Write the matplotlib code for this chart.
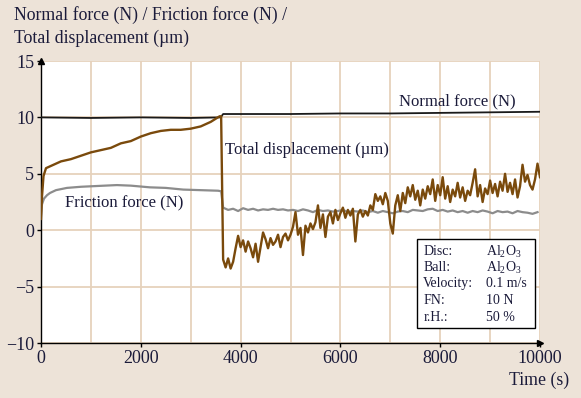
"""Tribometer run: normal force, friction force and total displacement vs time."""

import numpy as np
import matplotlib.pyplot as plt

# --- data ---
normal_t = [0, 1000, 2000, 3000, 3600, 3650, 5000, 6000, 7000, 8000, 9000, 10000]
normal_f = [10.0, 9.95, 10.0, 9.95, 10.0, 10.3, 10.3, 10.35, 10.35, 10.4, 10.45, 10.5]

fric_t_run_in = [0, 20, 60, 120, 180, 300, 520, 800, 1180, 1520, 1800, 2180,
                 2500, 2850, 3200, 3550, 3610]
fric_run_in = [1.3, 2.3, 2.8, 3.1, 3.3, 3.55, 3.75, 3.85, 3.93, 4.0, 3.95, 3.8,
               3.75, 3.6, 3.55, 3.5, 3.45]

fric_t_step = 100
fric_start = 3650
fric_steady = [2.0, 1.8, 1.9, 1.7, 1.95, 1.8, 1.9, 1.75, 1.85, 1.8, 1.9,
               1.8, 1.85, 1.75, 1.8, 1.7, 1.85, 1.75, 1.6, 1.8, 1.7,
               1.75, 1.65, 1.7, 1.8, 1.6, 1.7, 1.65, 1.75, 1.6, 1.7,
               1.55, 1.7, 1.6, 1.5, 1.65, 1.7, 1.6, 1.8, 1.75, 1.7,
               1.85, 1.9, 1.7, 1.8, 1.65, 1.75, 1.6, 1.7, 1.55, 1.7,
               1.6, 1.75, 1.65, 1.5, 1.7, 1.6, 1.65, 1.5, 1.7, 1.6,
               1.55, 1.45, 1.6]

disp_t_run_in = [0, 20, 50, 100, 200, 400, 600, 800, 1000, 1200, 1400, 1600,
                 1800, 2000, 2200, 2400, 2600, 2800, 3000, 3200, 3400, 3580, 3610]
disp_run_in = [1.0, 3.0, 4.8, 5.5, 5.7, 6.1, 6.3, 6.6, 6.9, 7.1, 7.3, 7.7,
               7.9, 8.3, 8.6, 8.8, 8.9, 8.9, 9.0, 9.2, 9.6, 10.1, 10.1]

disp_t_step = 50
disp_start = 3650
disp_steady = [-2.6, -3.3, -2.5, -3.4, -2.8, -1.6, -0.5, -1.5, -0.9, -1.9,
               -1.0, -1.6, -2.4, -1.2, -2.8, -1.5, -0.2, -0.8, -1.6, -0.7,
               -1.3, -1.0, -0.4, -1.5, -0.6, -0.3, -0.9, -0.4, 0.3, 1.6,
               -0.4, 0.2, -2.2, 0.4, -0.2, 0.6, 0.1, 0.7, 2.2, 0.2,
               1.4, -0.6, 1.2, 1.6, 0.6, 1.8, 0.9, 1.5, 2.0, 1.1,
               1.8, 1.3, 1.9, -1.0, 1.4, 1.8, 1.2, 1.7, 1.3, 2.2,
               1.8, 3.2, 2.6, 3.0, 2.3, 3.3, 2.6, 0.6, -0.3, 2.2,
               3.1, 1.7, 3.3, 2.4, 3.8, 3.0, 4.0, 2.7, 3.5, 2.2,
               3.6, 2.8, 3.9, 3.2, 4.5, 2.6, 4.0, 3.1, 4.7, 2.8,
               3.9, 2.5, 3.6, 3.0, 4.2, 2.9, 3.8, 2.6, 3.5, 3.1,
               4.2, 5.4, 3.0, 4.0, 2.5, 3.7, 3.2, 4.4, 3.3, 4.1,
               3.0, 4.3, 3.5, 5.0, 3.4, 4.2, 3.2, 4.5, 2.9, 3.9,
               5.8, 4.3, 4.9, 4.0, 3.6, 4.5, 5.9, 4.7]

info_keys = ["Disc:", "Ball:", "Velocity:", "FN:", "r.H.:"]
info_vals = [r"Al$_2$O$_3$", r"Al$_2$O$_3$", "0.1 m/s", "10 N", "50 %"]

x_ticks = [0, 2000, 4000, 6000, 8000, 10000]
y_ticks = [-10, -5, 0, 5, 10, 15]

BG = "#EDE3D8"
GRID = "#E6D2BC"
TXT = "#1b1b3a"
BROWN = "#7A4A0C"
GREY = "#8C8C8C"

plt.rcParams["font.family"] = ["Liberation Serif", "DejaVu Serif"]
plt.rcParams["mathtext.fontset"] = "custom"
plt.rcParams["mathtext.rm"] = "Liberation Serif"
plt.rcParams["mathtext.it"] = "Liberation Serif:italic"

fig = plt.figure(figsize=(5.81, 3.98), dpi=100, facecolor=BG)
ax = fig.add_axes([41 / 581, 1 - 343 / 398, 499 / 581, 282 / 398])
ax.set_facecolor("white")

fric_t2 = fric_start + fric_t_step * np.arange(len(fric_steady))
disp_t2 = disp_start + disp_t_step * np.arange(len(disp_steady))

fric_t = np.concatenate([fric_t_run_in, fric_t2])
fric = np.concatenate([fric_run_in, fric_steady])
disp_t = np.concatenate([disp_t_run_in, disp_t2])
disp = np.concatenate([disp_run_in, disp_steady])

ax.plot(normal_t, normal_f, color="#1a1a1a", lw=1.3, zorder=3)
ax.plot(fric_t, fric, color=GREY, lw=1.6, zorder=3)
ax.plot(disp_t, disp, color=BROWN, lw=1.7, zorder=4)

ax.set_xlim(0, 10000)
ax.set_ylim(-10, 15)
ax.set_xticks(x_ticks)
ax.set_yticks(y_ticks)
ax.set_xticks(np.arange(0, 10001, 1000), minor=True)
ax.grid(True, which="both", axis="x", color=GRID, lw=1.3, zorder=0)
ax.grid(True, which="major", axis="y", color=GRID, lw=1.3, zorder=0)
ax.tick_params(which="minor", length=0)
ax.tick_params(which="major", length=3, width=1, colors="black",
               labelcolor=TXT, labelsize=13, pad=2)
for side in ("top", "right"):
    ax.spines[side].set_visible(False)
for side in ("left", "bottom"):
    ax.spines[side].set_linewidth(1.0)

# arrowheads on the axes
ax.plot(0, 1.0, marker="^", color="black", ms=5, transform=ax.transAxes, clip_on=False, zorder=6)
ax.plot(1.0, 0, marker=">", color="black", ms=5, transform=ax.transAxes, clip_on=False, zorder=6)

fig.text(14 / 581, 1 - 15 / 398, "Normal force (N) / Friction force (N) /",
         fontsize=12.8, color=TXT, va="center")
fig.text(14 / 581, 1 - 38 / 398, "Total displacement (µm)",
         fontsize=12.8, color=TXT, va="center")
fig.text(569 / 581, 1 - 380 / 398, "Time (s)", fontsize=12.8, color=TXT,
         ha="right", va="center")

ax.text(7180, 11.45, "Normal force (N)", fontsize=12, color=TXT, va="center")
ax.text(3680, 7.1, "Total displacement (µm)", fontsize=12, color=TXT, va="center")
ax.text(480, 2.4, "Friction force (N)", fontsize=12, color=TXT, va="center")

# info box
box = plt.Rectangle((7540, -8.7), 2360, 7.9, facecolor="white", edgecolor="black",
                    lw=1.0, zorder=7)
ax.add_patch(box)
row_y = [-1.9, -3.35, -4.75, -6.2, -7.7]
for k, v, y in zip(info_keys, info_vals, row_y):
    ax.text(7660, y, k, fontsize=10, color=TXT, va="center", zorder=8)
    ax.text(8920, y, v, fontsize=10, color=TXT, va="center", zorder=8)

fig.savefig("out.png", dpi=100, facecolor=BG)
